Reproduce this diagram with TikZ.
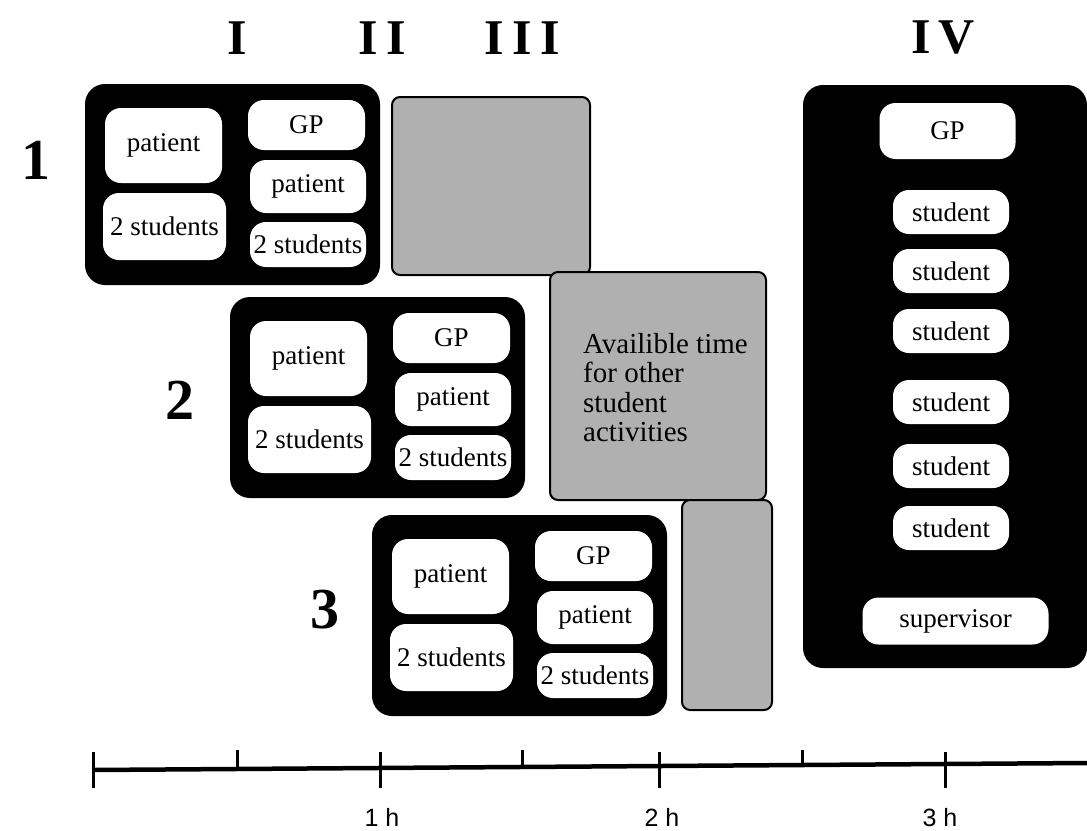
\documentclass[tikz,border=0pt]{standalone}
\usepackage{fontspec}
\setmainfont{Liberation Serif}
\newfontfamily\axisfont{Liberation Sans}
\usetikzlibrary{positioning}
\definecolor{shade}{RGB}{176,176,176}

\begin{document}
\begin{tikzpicture}[x=1pt, y=-1pt,
    panel/.style={fill=black, rounded corners=20pt, inner sep=0pt},
    slot/.style={fill=white, rounded corners=16pt, inner sep=0pt, font=\fontsize{27}{30}\selectfont},
    freetime/.style={draw=black, line width=2pt, fill=shade, rounded corners=8pt, inner sep=0pt},
    phase/.style={font=\fontsize{50}{54}\bfseries\selectfont},
    session/.style={font=\fontsize{58}{62}\bfseries\selectfont},
    hour/.style={font=\axisfont\fontsize{25}{27}\selectfont, anchor=base, inner sep=0pt}]
    \useasboundingbox (0,0) rectangle (1087,830);

    % Phase headings
    \node[phase] (ph1) at (237,38) {I};
    \node[phase] (ph2) at (382,38) {I\,I};
    \node[phase] (ph3) at (522,38) {I\,I\,I};
    \node[phase] (ph4) at (943,38) {I\,V};

    % Session numbers
    \node[session] (n1) at (36,160) {1};
    \node[session] (n2) at (180,400) {2};
    \node[session] (n3) at (325,610) {3};

    % Three consultation sessions, each shifted down and right
    \foreach \s/\dx/\dy in {1/0/0, 2/145/213, 3/287/431} {
      \begin{scope}[shift={(\dx,\dy)}]
        \node[panel, minimum width=295pt, minimum height=201pt] (ses\s) at (232.5,184.5) {};
        \node[slot, minimum width=117pt, minimum height=75pt] (ses\s-pat) at (163.5,145.5) {patient};
        \node[slot, minimum width=123pt, minimum height=67pt] (ses\s-stu) at (164.5,226.5) {2 students};
        \node[slot, minimum width=117pt, minimum height=50pt] (ses\s-gp) at (306.5,125) {GP};
        \node[slot, minimum width=116pt, minimum height=53pt] (ses\s-gpat) at (308,186.5) {patient};
        \node[slot, minimum width=116pt, minimum height=45pt] (ses\s-gstu) at (308,244.5) {2 students};
      \end{scope}
    }

    % Free time
    \node[freetime, minimum width=198pt, minimum height=178pt] (free1) at (491,186) {};
    \node[freetime, minimum width=216pt, minimum height=228pt] (free2) at (658,386) {};
    \node[freetime, minimum width=90pt, minimum height=210pt] (free3) at (727,605) {};
    \node[anchor=north west, align=left, inner sep=0pt,
          font=\fontsize{29}{29.5}\selectfont] (avail) at (583,333)
          {Availible time\\for other\\student\\activities};

    % Group supervision
    \node[panel, minimum width=284pt, minimum height=583pt] (sup) at (945,376.5) {};
    \node[slot, minimum width=136pt, minimum height=56pt] (sup-gp) at (947.5,131) {GP};
    \foreach \i/\y in {1/212, 2/271, 3/331, 4/402, 5/466, 6/528}
      \node[slot, minimum width=116pt, minimum height=44pt] (sup-stu\i) at (951,\y) {student};
    \node[slot, minimum width=186pt, minimum height=47pt] (sup-sv) at (955.5,621) {supervisor};

    % Time axis
    \draw[line width=4.5pt] (93,770) -- (1087,763);
    \foreach \x/\y in {93/770, 380/768, 659/766, 945/764}
      \draw[line width=3pt] (\x,752) -- (\x,788);
    \foreach \x/\y in {237/769, 522/767, 802/765}
      \draw[line width=3pt] (\x,\y) -- (\x,750);
    \node[hour] (h1) at (382,826) {1 h};
    \node[hour] (h2) at (662,826) {2 h};
    \node[hour] (h3) at (940,826) {3 h};
\end{tikzpicture}
\end{document}
